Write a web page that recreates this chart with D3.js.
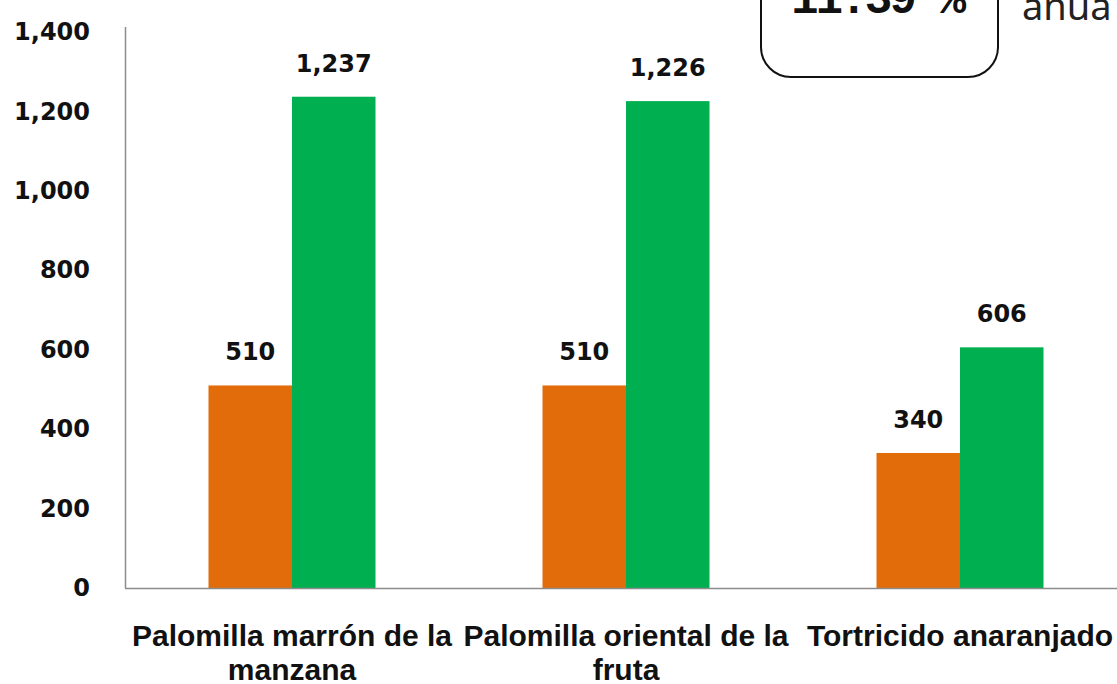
<!DOCTYPE html>
<html>
<head>
<meta charset="utf-8">
<script src="https://cdn.jsdelivr.net/npm/d3@7"></script>
<style>
  html, body { margin: 0; padding: 0; background: #fff; overflow: hidden; }
  svg { display: block; }
</style>
</head>
<body>
<svg id="chart" width="1117" height="684"></svg>
<script>
const categories = ["Palomilla marrón de la manzana", "Palomilla oriental de la fruta", "Tortricido anaranjado"];
const seriesNames = ["antes", "despues"];
const valuesBefore = [510, 510, 340];
const valuesAfter = [1237, 1226, 606];
const yTicks = [0, 200, 400, 600, 800, 1000, 1200, 1400];
const rateText = "11.39 %";
const rateNote = "anua";

const COLORS = { antes: "#E36C0A", despues: "#00B050" };
const AXIS_COLOR = "#8c8c8c";

const svg = d3.select("#chart");

const plotLeft = 125, plotRight = 1127, plotTop = 32, plotBottom = 588;

const x = d3.scaleBand().domain(categories).range([plotLeft, plotRight]).padding(0);
const xInner = d3.scaleBand().domain(seriesNames)
  .range([x.bandwidth() * 0.25, x.bandwidth() * 0.75]).padding(0);
const y = d3.scaleLinear().domain([0, 1400]).range([plotBottom, plotTop]);

const rows = categories.map((c, i) => ({
  category: c,
  values: [
    { key: "antes", value: valuesBefore[i] },
    { key: "despues", value: valuesAfter[i] }
  ]
}));

// barras
const groups = svg.append("g")
  .selectAll("g")
  .data(rows)
  .join("g")
  .attr("transform", d => `translate(${x(d.category)},0)`);

groups.selectAll("rect")
  .data(d => d.values)
  .join("rect")
  .attr("x", d => xInner(d.key))
  .attr("y", d => y(d.value))
  .attr("width", xInner.bandwidth())
  .attr("height", d => y(0) - y(d.value))
  .attr("fill", d => COLORS[d.key]);

// etiquetas de valores
groups.selectAll("text.val")
  .data(d => d.values)
  .join("text")
  .attr("class", "val")
  .attr("x", d => xInner(d.key) + xInner.bandwidth() / 2)
  .attr("y", d => y(d.value) - 25)
  .attr("text-anchor", "middle")
  .style("font-family", "'DejaVu Sans', sans-serif")
  .style("font-weight", "bold")
  .style("font-size", "24px")
  .attr("fill", "#111")
  .text(d => d3.format(",")(d.value));

// eje y
const yAxis = d3.axisLeft(y).tickValues(yTicks).tickSize(0).tickPadding(35)
  .tickFormat(d3.format(","));
const gy = svg.append("g").attr("transform", `translate(${plotLeft},0)`).call(yAxis);
gy.select(".domain").attr("stroke", AXIS_COLOR).attr("stroke-width", 1.5)
  .attr("d", `M0.5,${plotTop - 5}V${plotBottom}`);
gy.selectAll("text")
  .style("font-family", "'DejaVu Sans', sans-serif")
  .style("font-weight", "bold")
  .style("font-size", "24px")
  .attr("fill", "#111");

// eje x (línea base)
svg.append("line")
  .attr("x1", plotLeft).attr("x2", plotRight)
  .attr("y1", y(0) + 0.5).attr("y2", y(0) + 0.5)
  .attr("stroke", AXIS_COLOR).attr("stroke-width", 1.5);

// etiquetas de categorías con ajuste de línea
const catLabels = svg.append("g")
  .selectAll("text")
  .data(categories)
  .join("text")
  .attr("x", d => x(d) + x.bandwidth() / 2)
  .attr("y", 646)
  .attr("text-anchor", "middle")
  .style("font-family", "'Liberation Sans Narrow', 'Arial Narrow', sans-serif")
  .style("font-weight", "bold")
  .style("font-size", "30px")
  .attr("fill", "#111");

catLabels.each(function (d) {
  const t = d3.select(this);
  const cx = x(d) + x.bandwidth() / 2;
  const words = d.split(" ");
  let line = [];
  let tspan = t.append("tspan").attr("x", cx).attr("dy", 0);
  words.forEach(w => {
    line.push(w);
    tspan.text(line.join(" "));
    if (tspan.node().getComputedTextLength() > x.bandwidth() - 4 && line.length > 1) {
      line.pop();
      tspan.text(line.join(" "));
      line = [w];
      tspan = t.append("tspan").attr("x", cx).attr("dy", 34).text(w);
    }
  });
});

// recuadro de tasa anual
svg.append("rect")
  .attr("x", 761).attr("y", -60)
  .attr("width", 237).attr("height", 137)
  .attr("rx", 30)
  .attr("fill", "#fff")
  .attr("stroke", "#111")
  .attr("stroke-width", 2);

svg.append("text")
  .attr("x", 877).attr("y", 13)
  .attr("text-anchor", "middle")
  .style("font-family", "'Liberation Mono', 'Courier New', monospace")
  .style("font-weight", "bold")
  .style("font-size", "46px")
  .style("letter-spacing", "-3px")
  .attr("fill", "#111")
  .text(rateText);

svg.append("text")
  .attr("x", 1022).attr("y", 20)
  .style("font-family", "'Noto Sans', sans-serif")
  .style("font-size", "38px")
  .attr("fill", "#222")
  .text(rateNote);
</script>
</body>
</html>
